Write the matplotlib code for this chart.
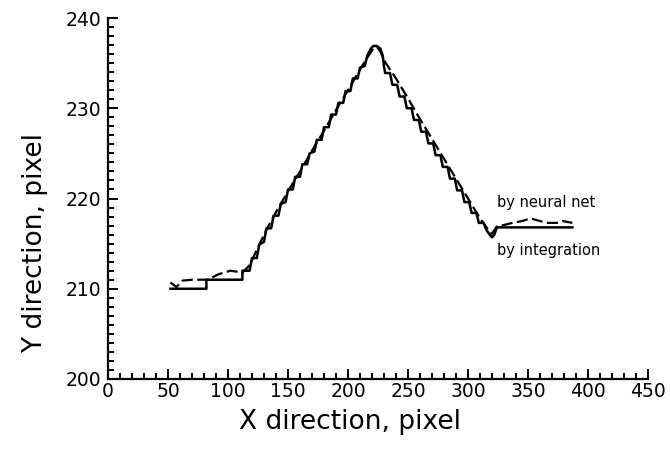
import matplotlib
matplotlib.use("Agg")
import matplotlib.pyplot as plt
from matplotlib.ticker import MultipleLocator

# "by integration" trace (solid, stair-stepped)
integ_x = [52, 82, 82, 112, 112, 118, 120, 124, 126, 130, 132, 136, 138, 142,
           144, 148, 150, 154, 156, 160, 162, 166, 168, 172, 174, 178, 180, 184,
           186, 190, 192, 196, 198, 202, 204, 208, 210, 214, 216, 219, 221, 224,
           227, 229, 230, 231, 235, 237, 241, 243, 247, 249, 253, 255, 259, 261,
           265, 267, 271, 273, 277, 279, 283, 285, 289, 291, 295, 297, 301, 303,
           307, 309, 313, 315, 318, 320, 322, 324, 387]
integ_y = [210.0, 210.0, 211.0, 211.0, 212.0, 212.0, 213.4, 213.4, 214.9, 215.2,
           216.7, 216.7, 218.1, 218.1, 219.4, 219.6, 221.0, 221.0, 222.4, 222.4,
           223.8, 223.8, 225.0, 225.2, 226.5, 226.5, 227.9, 227.9, 229.3, 229.3,
           230.6, 230.6, 231.9, 231.9, 233.3, 233.3, 234.5, 234.7, 235.8, 236.6,
           236.9, 236.9, 236.6, 235.8, 234.6, 233.9, 233.9, 232.6, 232.6, 231.3,
           231.3, 230.0, 230.0, 228.7, 228.7, 227.4, 227.4, 226.1, 226.1, 224.8,
           224.8, 223.5, 223.5, 222.2, 222.2, 220.9, 220.9, 219.6, 219.6, 218.4,
           218.4, 217.3, 217.3, 216.6, 216.0, 215.7, 216.0, 216.8, 216.8]

# "by neural net" trace (dashed, smoother)
nn_x = [52, 57, 62, 70, 83, 92, 102, 112, 118, 125, 132, 140, 150, 160, 170,
        180, 190, 200, 210, 217, 221, 224, 227, 230, 240, 250, 260, 270, 280,
        290, 300, 310, 317, 320, 324, 328, 337, 345, 352, 360, 366, 374, 379, 387]
nn_y = [210.7, 210.2, 210.9, 211.0, 211.0, 211.6, 212.0, 211.8, 212.6, 214.6,
        216.5, 218.5, 220.8, 223.0, 225.3, 227.5, 229.8, 232.0, 234.3, 235.8,
        236.6, 236.8, 236.3, 235.3, 233.3, 231.1, 228.8, 226.6, 224.4, 222.2,
        220.0, 217.8, 216.5, 216.1, 216.9, 217.0, 217.3, 217.5, 217.8, 217.5,
        217.3, 217.3, 217.5, 217.3]

x_ticks = [0, 50, 100, 150, 200, 250, 300, 350, 400, 450]
y_ticks = [200, 210, 220, 230, 240]

fig = plt.figure(figsize=(6.7, 4.51), dpi=100)
ax = fig.add_axes([108 / 670, 72 / 451, 540 / 670, 361 / 451])

ax.plot(integ_x, integ_y, color="black", linewidth=1.8, solid_joinstyle="round")
ax.plot(nn_x, nn_y, color="black", linewidth=1.6, linestyle=(0, (5, 2)))

ax.text(324, 219.6, "by neural net", fontsize=10.5, ha="left", va="center")
ax.text(324, 214.2, "by integration", fontsize=10.5, ha="left", va="center")

ax.set_xlim(0, 450)
ax.set_ylim(200, 240)
ax.set_xticks(x_ticks)
ax.set_yticks(y_ticks)
ax.xaxis.set_minor_locator(MultipleLocator(10))
ax.yaxis.set_minor_locator(MultipleLocator(1))
ax.tick_params(which="both", direction="in", width=1.4, labelsize=13.5)
ax.tick_params(which="major", length=7)
ax.tick_params(which="minor", length=4)
ax.tick_params(axis="x", pad=2)
ax.tick_params(axis="y", pad=5)

for side in ("top", "right"):
    ax.spines[side].set_visible(False)
for side in ("left", "bottom"):
    ax.spines[side].set_linewidth(1.6)

fig.text(35 / 670, 1 - 243 / 451, "Y direction, pixel", rotation=90,
         fontsize=19, ha="center", va="center")
fig.text(350 / 670, 1 - 422 / 451, "X direction, pixel",
         fontsize=19, ha="center", va="center")

fig.savefig("out.png", dpi=100)
